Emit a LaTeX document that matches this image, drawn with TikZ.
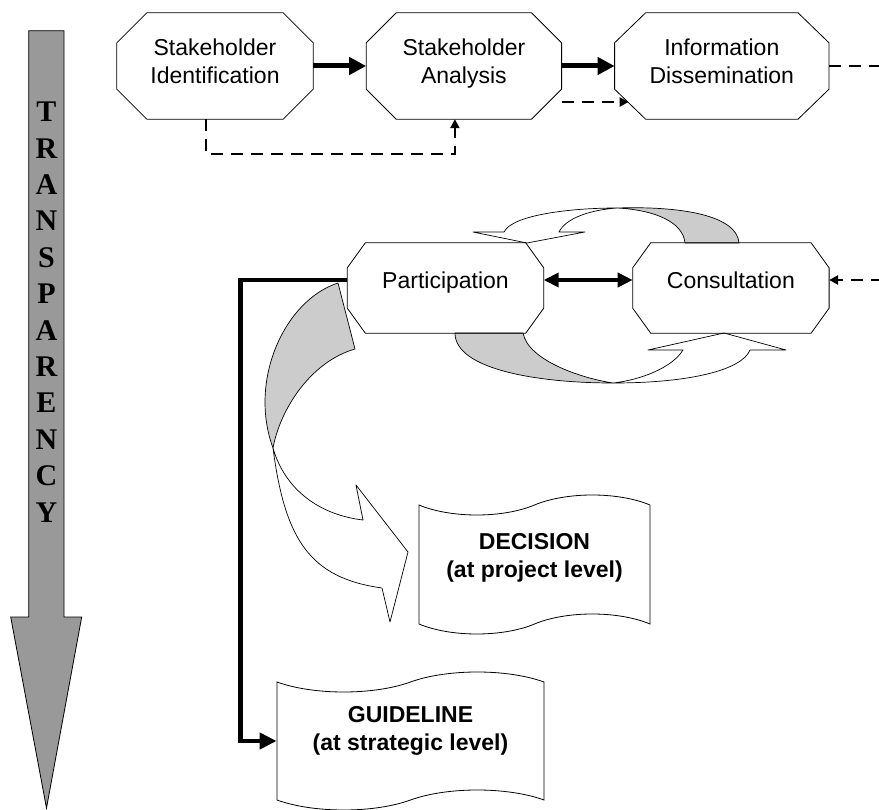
\documentclass[tikz,border=0pt]{standalone}
\usepackage{fontspec}
\setmainfont{Liberation Sans}
\newfontfamily\tnrfont{Liberation Serif}
\usetikzlibrary{shapes.symbols,arrows.meta,positioning}

\definecolor{shaftgrey}{HTML}{999999}
\definecolor{bandgrey}{HTML}{CCCCCC}

\newcommand{\boxfont}{\fontsize{23}{28}\selectfont}
\newcommand{\spinefont}{\tnrfont\bfseries\fontsize{30}{36.4}\selectfont}

\tikzset{
  octa/.style={rectangle, inner sep=0pt, align=center, font=\boxfont},
  bigocta/.style={octa, minimum height=106pt, text depth=9pt},
  smallocta/.style={octa, minimum width=196pt, minimum height=90pt, text depth=16pt},
  octline/.style={draw, line width=0.8pt, line join=miter},
  wave/.style={tape, draw, fill=white, line width=0.8pt, tape bend height=20pt, align=center, font=\boxfont\bfseries},
  band/.style={draw, line width=0.7pt, line join=round},
  solidarrow/.style={line width=5pt, -{Triangle[length=17pt,width=17pt]}},
  dblarrow/.style={line width=4pt, {Triangle[length=15pt,width=14pt]}-{Triangle[length=15pt,width=14pt]}},
  dashline/.style={line width=2.5pt, dash pattern=on 12pt off 8pt},
  dasharrow/.style={dashline, -{Triangle[length=9pt,width=9pt]}},
}

\begin{document}
\begin{tikzpicture}[x=1pt, y=-1pt, node distance=53pt]
\clip (0,0) rectangle (879,810);

% transparency
\draw[fill=shaftgrey, line width=0.8pt] (28.7,30.7) -- (64,30.7) -- (64,617) -- (81.7,617) -- (46.5,808) -- (10.7,617) -- (28.7,617) -- cycle;
\node[font=\spinefont, align=center, inner sep=0pt] (spine) at (46.5,312) {T\\R\\A\\N\\S\\P\\A\\R\\E\\N\\C\\Y};

% loop arrows round participation / consultation
\path[band, fill=bandgrey] (617,208) .. controls (680,206) and (737,215) .. (739,243) -- (685,243) .. controls (683,222) and (655,210) .. (617,208) -- cycle;
\path[band, fill=white] (617,208) .. controls (570,208) and (512,215) .. (504,232) -- (473,232) -- (527,243) -- (585,232) -- (559,232) .. controls (566,218) and (590,210) .. (617,208) -- cycle;
\path[band, fill=bandgrey] (455,333) .. controls (455,370) and (540,383) .. (613,383) .. controls (580,378) and (528,360) .. (523,333) -- cycle;
\path[band, fill=white] (613,383) .. controls (690,383) and (742,370) .. (750,350) -- (786,350) -- (724,333) -- (648,350) -- (683,350) .. controls (672,368) and (640,380) .. (613,383) -- cycle;

% arrow down to the decision
\path[band, fill=bandgrey] (338,283) .. controls (285,300) and (248,380) .. (273,448) .. controls (280,410) and (310,362) .. (355,349) -- cycle;
\path[band, fill=white] (273,448) .. controls (285,540) and (310,578) .. (382,588) -- (390,622) -- (408,552) -- (356,485) -- (363,520) .. controls (320,515) and (285,490) .. (273,448) -- cycle;

\node[bigocta, minimum width=196pt] (ident) at (215,66) {Stakeholder\\Identification};
\node[bigocta, minimum width=195pt, right=of ident] (ana) {Stakeholder\\Analysis};
\node[bigocta, minimum width=214pt, right=of ana] (dis) {Information\\Dissemination};

\node[smallocta] (part) at (445.5,288) {Participation};
\node[smallocta, right=89pt of part] (cons) {Consultation};

% octagon outlines
\foreach \n/\cx/\cy in {ident/30/30, ana/30/30, dis/31/30, part/18/25, cons/18/25}
  \draw[octline] ([xshift=\cx pt]\n.north west) -- ([xshift=-\cx pt]\n.north east)
    -- ([yshift=-\cy pt]\n.north east) -- ([yshift=\cy pt]\n.south east)
    -- ([xshift=-\cx pt]\n.south east) -- ([xshift=\cx pt]\n.south west)
    -- ([yshift=\cy pt]\n.south west) -- ([yshift=-\cy pt]\n.north west) -- cycle;

\node[wave, minimum width=231pt, minimum height=139pt, text depth=19pt] (dec) at (534.5,564.5) {DECISION\\(at project level)};
\node[wave, minimum width=267pt, minimum height=138pt, text depth=25pt] (guide) at (410.5,741) {GUIDELINE\\(at strategic level)};

\path[solidarrow] (ident) edge (ana)
                  (ana) edge (dis);

\draw[dasharrow] ([xshift=-9pt]ident.south) -- ++(0,35) -| ([xshift=-9pt]ana.south);
\draw[dasharrow] ([yshift=-36pt]ana.east) -- ([xshift=14pt,yshift=-36pt]dis.west);
\draw[dasharrow] (dis.east) -- ++(80,0) |- ([yshift=8pt]cons.east);

\draw[dblarrow] ([yshift=8pt]part.east) -- ([yshift=8pt]cons.west);
\draw[line width=4.5pt, -{Triangle[length=17pt,width=16pt]}] ([yshift=8pt]part.west) -- ++(-107,0) |- (guide.west);
\end{tikzpicture}
\end{document}
